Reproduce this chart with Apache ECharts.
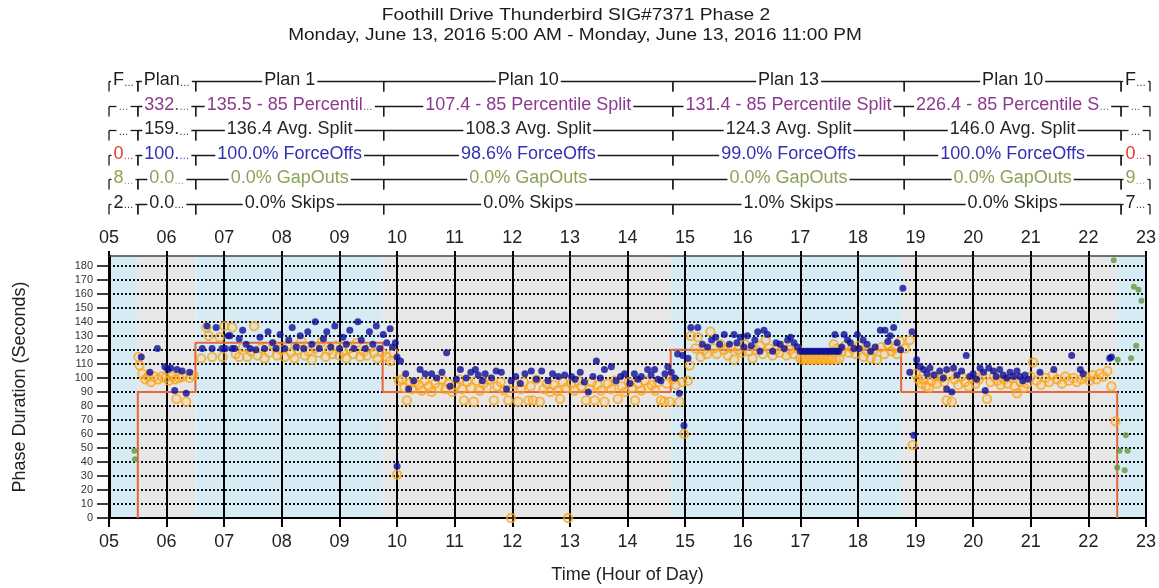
<!DOCTYPE html>
<html>
<head>
<meta charset="utf-8">
<script src="https://cdn.jsdelivr.net/npm/echarts@6/dist/echarts.min.js"></script>
<style>
  html, body { margin: 0; padding: 0; background: #fff; }
  #chart { width: 1159px; height: 588px; }
</style>
</head>
<body>
<div id="chart"></div>
<script>
// ---- axis ticks ----
const hourTicks = [5, 6, 7, 8, 9, 10, 11, 12, 13, 14, 15, 16, 17, 18, 19, 20, 21, 22, 23];
const durationTicks = [0, 10, 20, 30, 40, 50, 60, 70, 80, 90, 100, 110, 120, 130, 140, 150, 160, 170, 180];

// ---- timing plans (hour of day) ----
const planStarts = [5, 5.5, 6.5, 9.75, 14.75, 18.75, 22.5];
const planEnds = [5.5, 6.5, 9.75, 14.75, 18.75, 22.5, 23];
const programmedSplit = [0, 90, 125, 90, 120, 90, 0];

// ---- plan statistics shown above the plot ----
const planNames = ['F…', 'Plan…', 'Plan 1', 'Plan 10', 'Plan 13', 'Plan 10', 'F…'];
const pct85Labels = ['…', '332.…', '135.5 - 85 Percentil…', '107.4 - 85 Percentile Split', '131.4 - 85 Percentile Split', '226.4 - 85 Percentile S…', '…'];
const avgSplitLabels = ['…', '159.…', '136.4 Avg. Split', '108.3 Avg. Split', '124.3 Avg. Split', '146.0 Avg. Split', '…'];
const forceOffLabels = ['0…', '100.…', '100.0% ForceOffs', '98.6% ForceOffs', '99.0% ForceOffs', '100.0% ForceOffs', '0…'];
const gapOutLabels = ['8…', '0.0…', '0.0% GapOuts', '0.0% GapOuts', '0.0% GapOuts', '0.0% GapOuts', '9…'];
const skipLabels = ['2…', '0.0…', '0.0% Skips', '0.0% Skips', '1.0% Skips', '0.0% Skips', '7…'];

// ---- phase terminations: [hour of day, phase duration in seconds] ----
const gapOuts = [
  [5.44, 48], [5.45, 42],
  [22.44, 184], [22.51, 113], [22.5, 36], [22.54, 48], [22.63, 34], [22.65, 59], [22.68, 48],
  [22.74, 114], [22.79, 165], [22.83, 123], [22.87, 163], [22.92, 155]
];

const forceOffs = [
  [5.56, 115], [5.71, 104], [5.84, 121], [5.97, 108], [6.02, 106], [6.07, 107], [6.14, 91], [6.18, 106],
  [6.27, 105], [6.34, 89], [6.4, 104],
  [6.62, 121], [6.7, 137], [6.79, 121], [6.86, 136], [6.96, 121], [7.02, 121], [7.07, 130], [7.14, 121],
  [7.1, 130], [7.18, 121], [7.26, 128], [7.32, 134], [7.38, 124], [7.45, 121], [7.55, 120], [7.62, 129],
  [7.7, 121], [7.76, 133], [7.84, 125], [7.9, 121], [7.97, 131], [8.05, 121], [8.12, 127], [8.18, 136],
  [8.25, 122], [8.32, 130], [8.38, 121], [8.45, 133], [8.52, 124], [8.58, 140], [8.65, 121], [8.72, 128],
  [8.78, 133], [8.85, 122], [8.92, 137], [9.0, 121], [9.06, 129], [9.12, 124], [9.18, 134], [9.25, 121],
  [9.32, 140], [9.38, 127], [9.45, 121], [9.52, 133], [9.58, 124], [9.64, 137], [9.7, 121], [9.76, 131],
  [9.82, 125], [9.88, 135], [9.92, 122], [9.97, 125], [10.0, 115], [10.0, 37],
  [10.06, 112], [10.15, 103], [10.2, 92], [10.29, 98], [10.4, 106], [10.49, 103], [10.6, 103], [10.69, 100],
  [10.78, 104], [10.86, 118], [10.92, 94], [11.03, 99], [11.1, 106], [11.2, 100], [11.28, 104], [11.36, 106],
  [11.41, 102], [11.48, 98], [11.53, 103], [11.64, 100], [11.72, 105], [11.81, 104], [11.9, 92], [11.98, 98],
  [12.06, 101], [12.14, 96], [12.22, 103], [12.33, 105], [12.42, 99], [12.51, 105], [12.62, 98], [12.7, 103],
  [12.8, 101], [12.91, 102], [13.03, 101], [13.09, 99], [13.18, 104], [13.25, 97], [13.32, 90], [13.4, 101],
  [13.46, 112], [13.53, 100], [13.6, 106], [13.72, 108], [13.8, 98], [13.88, 101], [13.95, 103], [14.04, 96],
  [14.12, 103], [14.18, 99], [14.24, 101], [14.35, 106], [14.41, 102], [14.47, 106], [14.53, 99], [14.58, 98],
  [14.65, 103], [14.7, 108], [14.76, 104], [14.82, 100], [14.87, 117], [14.9, 89], [14.96, 116], [14.98, 66],
  [15.05, 114], [15.1, 136], [15.22, 136], [15.3, 124], [15.39, 122], [15.46, 127], [15.53, 129], [15.6, 124],
  [15.68, 131], [15.77, 124], [15.85, 131], [15.9, 125], [15.96, 129], [16.02, 122], [16.08, 130], [16.15, 123],
  [16.21, 127], [16.26, 133], [16.3, 119], [16.37, 134], [16.43, 131], [16.52, 119], [16.58, 125], [16.65, 124],
  [16.72, 121], [16.78, 127], [16.83, 129], [16.89, 125], [16.95, 122],
  [17.0, 119], [17.04, 119], [17.08, 119], [17.12, 119], [17.16, 119], [17.2, 119], [17.24, 119], [17.28, 119],
  [17.32, 119], [17.36, 119], [17.4, 119], [17.44, 119], [17.48, 119], [17.52, 119], [17.56, 119], [17.6, 119],
  [17.64, 119], [17.67, 119],
  [17.6, 131], [17.72, 122], [17.76, 131], [17.82, 127], [17.87, 125], [17.93, 121], [17.99, 131], [18.02, 121],
  [18.09, 127], [18.16, 124], [18.22, 119], [18.3, 122], [18.39, 134], [18.47, 134], [18.52, 126], [18.56, 130],
  [18.62, 136], [18.68, 125], [18.74, 120], [18.78, 164], [18.9, 104], [18.94, 133], [18.97, 59],
  [19.02, 113], [19.08, 108], [19.14, 106], [19.2, 103], [19.25, 107], [19.32, 102], [19.42, 105], [19.48, 100],
  [19.54, 106], [19.54, 92], [19.63, 90], [19.66, 107], [19.72, 102], [19.8, 105], [19.88, 116], [19.94, 101],
  [20.0, 103], [20.06, 99], [20.12, 107], [20.18, 104], [20.21, 91], [20.27, 107], [20.35, 105], [20.4, 101],
  [20.46, 106], [20.52, 102], [20.58, 100], [20.64, 104], [20.7, 101], [20.76, 105], [20.81, 101], [20.86, 98],
  [20.9, 102], [20.96, 99], [21.16, 104], [21.4, 106], [21.71, 116], [21.86, 106], [21.91, 103],
  [22.37, 114], [22.4, 115]
];

const pedActivity = [
  [5.51, 115], [5.53, 109], [5.58, 103], [5.63, 99], [5.68, 101], [5.73, 97], [5.78, 101], [5.85, 99],
  [5.92, 101], [5.98, 100], [6.04, 98], [6.1, 101], [6.15, 99], [6.17, 85], [6.22, 100], [6.28, 101],
  [6.34, 83], [6.4, 100], [6.47, 102],
  [6.6, 114], [6.69, 136], [6.73, 130], [6.79, 115], [6.92, 129], [6.97, 115], [7.0, 137], [7.14, 136],
  [7.2, 117], [7.26, 115], [7.33, 122], [7.4, 115], [7.46, 119], [7.52, 137], [7.58, 116], [7.64, 121],
  [7.7, 114], [7.78, 118], [7.85, 124], [7.92, 116], [7.98, 120], [8.05, 115], [8.1, 123], [8.16, 118],
  [8.22, 114], [8.28, 120], [8.34, 126], [8.4, 116], [8.46, 119], [8.52, 113], [8.58, 121], [8.64, 118],
  [8.7, 126], [8.76, 115], [8.82, 120], [8.88, 117], [8.94, 123], [9.0, 116], [9.06, 119], [9.12, 114],
  [9.18, 121], [9.24, 117], [9.3, 125], [9.36, 115], [9.42, 119], [9.48, 116], [9.54, 122], [9.6, 118],
  [9.66, 114], [9.74, 118], [9.82, 115], [9.88, 112], [9.94, 118], [10.0, 31],
  [10.03, 98], [10.09, 99], [10.13, 93], [10.17, 84], [10.22, 96], [10.26, 92], [10.31, 97], [10.38, 95],
  [10.43, 91], [10.48, 98], [10.55, 94], [10.6, 90], [10.66, 96], [10.72, 93], [10.78, 99], [10.84, 92],
  [10.9, 96], [10.96, 90], [11.02, 95], [11.08, 99], [11.13, 92], [11.16, 84], [11.22, 97], [11.28, 93],
  [11.33, 83], [11.38, 98], [11.44, 91], [11.5, 96], [11.56, 93], [11.62, 99], [11.68, 84], [11.74, 94],
  [11.8, 97], [11.86, 91], [11.93, 84], [11.98, 0], [12.02, 96], [12.1, 83], [12.15, 92], [12.2, 97],
  [12.28, 84], [12.32, 94], [12.36, 84], [12.42, 99], [12.48, 83], [12.54, 92], [12.6, 96], [12.66, 90],
  [12.72, 95], [12.78, 91], [12.83, 85], [12.88, 97], [12.94, 93], [12.97, 0], [13.02, 96], [13.08, 91],
  [13.14, 98], [13.2, 94], [13.28, 84], [13.34, 92], [13.38, 97], [13.43, 84], [13.48, 95], [13.54, 91],
  [13.6, 83], [13.66, 96], [13.72, 92], [13.78, 98], [13.83, 85], [13.9, 94], [13.96, 90], [14.02, 97],
  [14.08, 93], [14.13, 84], [14.18, 96], [14.24, 91], [14.3, 98], [14.36, 93], [14.42, 95], [14.48, 91],
  [14.53, 97], [14.58, 84], [14.64, 83], [14.68, 96], [14.73, 83], [14.78, 99], [14.84, 95], [14.9, 83],
  [14.95, 97], [14.98, 60], [15.05, 98], [15.08, 109],
  [15.1, 130], [15.18, 121], [15.22, 129], [15.27, 115], [15.33, 120], [15.38, 117], [15.44, 133], [15.5, 121],
  [15.55, 117], [15.62, 124], [15.68, 120], [15.74, 116], [15.8, 122], [15.85, 113], [15.92, 120], [15.98, 118],
  [16.04, 124], [16.1, 119], [16.17, 114], [16.23, 120], [16.3, 123], [16.35, 117], [16.4, 127], [16.46, 121],
  [16.52, 116], [16.58, 120], [16.64, 118], [16.7, 123], [16.76, 116], [16.82, 120], [16.88, 117], [16.94, 121],
  [17.0, 114], [17.04, 113], [17.08, 114], [17.12, 113], [17.16, 114], [17.2, 113], [17.24, 114], [17.28, 113],
  [17.32, 114], [17.36, 113], [17.4, 114], [17.44, 113], [17.48, 114], [17.52, 113], [17.56, 114], [17.62, 113],
  [17.68, 114],
  [17.58, 124], [17.64, 121], [17.72, 119], [17.78, 123], [17.84, 118], [17.9, 121], [17.96, 117], [18.02, 123],
  [18.1, 115], [18.16, 119], [18.22, 114], [18.28, 120], [18.33, 113], [18.4, 122], [18.46, 117], [18.52, 124],
  [18.58, 119], [18.64, 121], [18.68, 117], [18.73, 126], [18.82, 121], [18.9, 127], [18.95, 52],
  [19.0, 103], [19.05, 99], [19.1, 96], [19.14, 99], [19.18, 94], [19.23, 93], [19.28, 98], [19.33, 101],
  [19.37, 96], [19.45, 100], [19.5, 97], [19.54, 84], [19.6, 102], [19.63, 83], [19.68, 99], [19.74, 95],
  [19.8, 101], [19.86, 97], [19.92, 94], [19.98, 100], [20.04, 96], [20.1, 99], [20.16, 102], [20.24, 85],
  [20.3, 97], [20.36, 101], [20.42, 98], [20.48, 95], [20.54, 99], [20.6, 96], [20.66, 100], [20.72, 94],
  [20.76, 89], [20.82, 97], [20.88, 93], [20.94, 96], [21.0, 101], [21.04, 111], [21.1, 98], [21.18, 95],
  [21.26, 100], [21.32, 97], [21.38, 102], [21.46, 99], [21.54, 96], [21.6, 101], [21.66, 98], [21.74, 100],
  [21.8, 97], [21.88, 99], [21.95, 101], [22.02, 98], [22.08, 102], [22.14, 99], [22.2, 103], [22.26, 101],
  [22.33, 105], [22.4, 94], [22.47, 69]
];

// ---- layout constants ----
const FONT = '"Liberation Sans", Arial, sans-serif';
const durationMax = 187;
const hourMin = 5, hourMax = 23;
const annotationRows = [planNames, pct85Labels, avgSplitLabels, forceOffLabels, gapOutLabels, skipLabels];
const rowColors = ['#1e1e1e', '#8c3a8f', '#262626', '#3232b0', '#8aa356', '#1e1e1e'];

function annotationColor(row, seg) {
  if (row === 3 && (seg === 0 || seg === planStarts.length - 1)) return '#e23a2e';
  return rowColors[row];
}

// stepped programmed-split line, dropping to zero in free operation
const splitLine = [];
planStarts.forEach((s, i) => {
  if (programmedSplit[i] > 0) {
    if (splitLine.length === 0) splitLine.push([s, 0]);
    splitLine.push([s, programmedSplit[i]]);
  } else if (splitLine.length > 0 && splitLine[splitLine.length - 1][1] !== 0) {
    splitLine.push([s, 0]);
  }
});

function renderBand(params, api) {
  const i = api.value(2);
  const p0 = api.coord([api.value(0), durationMax]);
  const p1 = api.coord([api.value(1), 0]);
  return {
    type: 'rect',
    shape: { x: p0[0], y: p0[1], width: p1[0] - p0[0], height: p1[1] - p0[1] },
    style: { fill: i % 2 === 0 ? '#d6ebf3' : '#e7e7e7' }
  };
}

function renderAnnotation(params, api) {
  const row = api.value(1);
  const seg = api.value(2);
  const a = api.coord([planStarts[seg], row]);
  const b = api.coord([planEnds[seg], row]);
  const yLine = Math.round(a[1]) + 1.5;
  const color = annotationColor(row, seg);
  const label = annotationRows[row][seg].replace(/…/g, '{e|…}');
  const stroke = { stroke: '#1a1a1a', lineWidth: 1.3 };
  return {
    type: 'group',
    children: [
      { type: 'line', shape: { x1: a[0], y1: yLine, x2: b[0], y2: yLine }, style: stroke },
      { type: 'line', shape: { x1: a[0], y1: yLine, x2: a[0], y2: yLine + 10 }, style: stroke },
      { type: 'line', shape: { x1: b[0], y1: yLine, x2: b[0], y2: yLine + 10 }, style: stroke },
      {
        type: 'text',
        x: (a[0] + b[0]) / 2,
        y: a[1],
        style: {
          text: label,
          fill: color,
          font: '18px ' + FONT,
          align: 'center',
          verticalAlign: 'middle',
          backgroundColor: '#fff',
          padding: [0, 2],
          lineHeight: 15,
          rich: {
            e: { fill: color, fontSize: 10, fontFamily: FONT, lineHeight: 15, verticalAlign: 'bottom' }
          }
        }
      }
    ]
  };
}

const annotationData = [];
annotationRows.forEach((labels, row) => {
  labels.forEach((t, seg) => annotationData.push([planStarts[seg], row, seg]));
});

const pad2 = v => (v < 10 ? '0' : '') + v;

const chart = echarts.init(document.getElementById('chart'), null, { renderer: 'canvas' });
chart.setOption({
  animation: false,
  backgroundColor: '#fff',
  textStyle: { fontFamily: FONT },
  graphic: [
    {
      type: 'text', x: 576, y: 16, scaleX: 1.2,
      style: { text: 'Foothill Drive Thunderbird SIG#7371 Phase 2', font: '16px ' + FONT, fill: '#1a1a1a',
               align: 'center', verticalAlign: 'middle' }
    },
    {
      type: 'text', x: 575, y: 36, scaleX: 1.19,
      style: { text: 'Monday, June 13, 2016 5:00 AM - Monday, June 13, 2016 11:00 PM', font: '16px ' + FONT,
               fill: '#1a1a1a', align: 'center', verticalAlign: 'middle' }
    }
  ],
  grid: [
    { left: 109, right: 9, top: 256, bottom: 70 },
    { left: 109, right: 9, top: 68, height: 147 }
  ],
  xAxis: [
    {
      gridIndex: 0, type: 'value', position: 'bottom', min: hourMin, max: hourMax, interval: 1, z: 1,
      name: 'Time (Hour of Day)', nameLocation: 'middle', nameGap: 48,
      nameTextStyle: { fontSize: 18, color: '#222', fontFamily: FONT },
      axisLine: { onZero: false, lineStyle: { color: '#000', width: 2 } },
      axisTick: { length: 9, lineStyle: { color: '#000', width: 2 } },
      axisLabel: { fontSize: 18, color: '#222', margin: 15, formatter: pad2, customValues: hourTicks },
      splitLine: { show: true, lineStyle: { color: '#000', width: 2, type: 'solid' } }
    },
    {
      gridIndex: 0, type: 'value', position: 'top', min: hourMin, max: hourMax, interval: 1, z: 1,
      axisLine: { onZero: false, lineStyle: { color: '#444', width: 1.5 } },
      axisTick: { length: 5, lineStyle: { color: '#000', width: 2 } },
      axisLabel: { fontSize: 18, color: '#222', margin: 9, formatter: pad2, customValues: hourTicks },
      splitLine: { show: false }
    },
    { gridIndex: 1, type: 'value', min: hourMin, max: hourMax, show: false }
  ],
  yAxis: [
    {
      gridIndex: 0, type: 'value', min: 0, max: durationMax, interval: 10, z: 1,
      name: 'Phase Duration (Seconds)', nameLocation: 'middle', nameGap: 80,
      nameTextStyle: { fontSize: 18, color: '#222', fontFamily: FONT },
      axisLine: { onZero: false, lineStyle: { color: '#000', width: 3 } },
      axisTick: { length: 12, customValues: durationTicks, lineStyle: { color: '#000', width: 1.5 } },
      axisLabel: { fontSize: 11, color: '#333', margin: 16, customValues: durationTicks },
      splitLine: { show: true, lineStyle: { color: '#111', width: 2, type: [2, 2] } }
    },
    { gridIndex: 1, type: 'category', data: ['0', '1', '2', '3', '4', '5'], inverse: true, show: false }
  ],
  series: [
    {
      type: 'custom', name: 'Plans', xAxisIndex: 0, yAxisIndex: 0, z: 0, silent: true,
      renderItem: renderBand,
      encode: { x: [0, 1], y: 3 },
      data: planStarts.map((s, i) => [s, planEnds[i], i, 0])
    },
    {
      type: 'line', name: 'Programmed Split', xAxisIndex: 0, yAxisIndex: 0, z: 3,
      step: 'end', symbol: 'none', data: splitLine,
      lineStyle: { color: '#e4683c', width: 2 }
    },
    {
      type: 'scatter', name: 'Ped Activity', xAxisIndex: 0, yAxisIndex: 0, z: 4,
      symbol: 'circle', symbolSize: 8.5, data: pedActivity,
      itemStyle: { color: 'rgba(255,190,90,0.25)', borderColor: '#fba516', borderWidth: 1.8 }
    },
    {
      type: 'scatter', name: 'Force Off', xAxisIndex: 0, yAxisIndex: 0, z: 5,
      symbol: 'circle', symbolSize: 7, data: forceOffs,
      itemStyle: { color: '#0e0e98' }
    },
    {
      type: 'scatter', name: 'Gap Out', xAxisIndex: 0, yAxisIndex: 0, z: 5,
      symbol: 'circle', symbolSize: 6, data: gapOuts,
      itemStyle: { color: '#5f9a3c' }
    },
    {
      type: 'custom', name: 'Plan Statistics', xAxisIndex: 2, yAxisIndex: 1, silent: true,
      renderItem: renderAnnotation,
      encode: { x: 0, y: 1 },
      data: annotationData
    }
  ]
});
</script>
</body>
</html>
